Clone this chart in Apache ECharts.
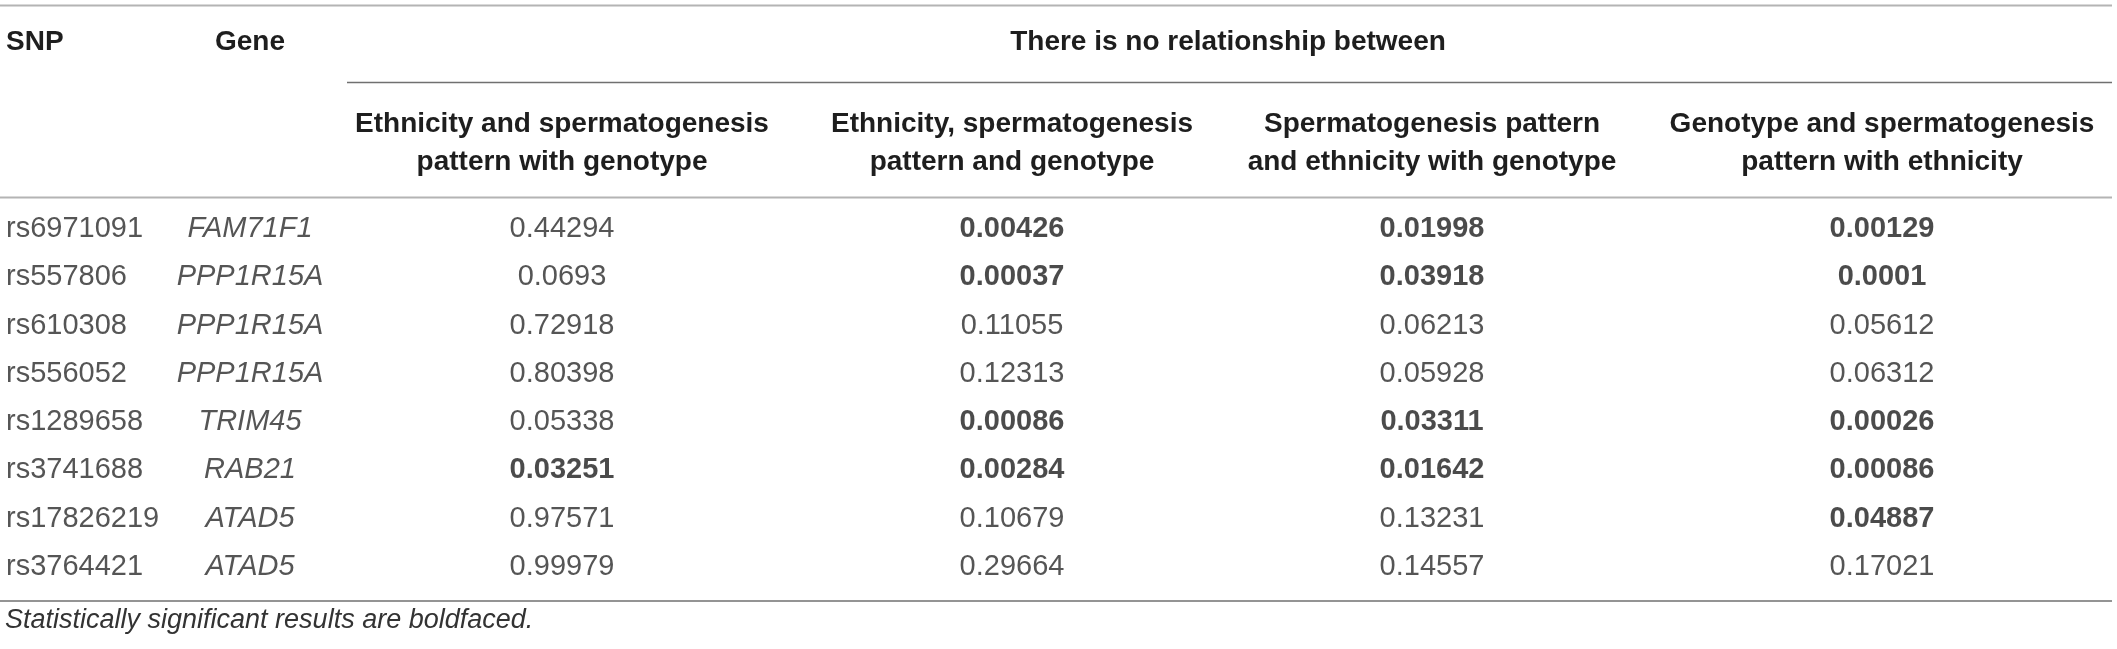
<!DOCTYPE html>
<html>
<head>
<meta charset="utf-8">
<title>SNP relationship table</title>
<script src="https://cdn.jsdelivr.net/npm/echarts@6/dist/echarts.min.js"></script>
<style>
    html, body { margin: 0; padding: 0; background: #fff; }
    #chart { width: 2117px; height: 649px; }
</style>
</head>
<body>
<div id="chart"></div>
<script>
// table data
var snps = ['rs6971091', 'rs557806', 'rs610308', 'rs556052', 'rs1289658', 'rs3741688', 'rs17826219', 'rs3764421'];
var genes = ['FAM71F1', 'PPP1R15A', 'PPP1R15A', 'PPP1R15A', 'TRIM45', 'RAB21', 'ATAD5', 'ATAD5'];
var pEthSpermWithGeno = ['0.44294', '0.0693', '0.72918', '0.80398', '0.05338', '0.03251', '0.97571', '0.99979'];
var pEthSpermAndGeno = ['0.00426', '0.00037', '0.11055', '0.12313', '0.00086', '0.00284', '0.10679', '0.29664'];
var pSpermEthWithGeno = ['0.01998', '0.03918', '0.06213', '0.05928', '0.03311', '0.01642', '0.13231', '0.14557'];
var pGenoSpermWithEth = ['0.00129', '0.0001', '0.05612', '0.06312', '0.00026', '0.00086', '0.04887', '0.17021'];
var alpha = 0.05; // p below this is boldfaced

var groupTitle = 'There is no relationship between';
var colTitles = [
    'SNP',
    'Gene',
    'Ethnicity and spermatogenesis\npattern with genotype',
    'Ethnicity, spermatogenesis\npattern and genotype',
    'Spermatogenesis pattern\nand ethnicity with genotype',
    'Genotype and spermatogenesis\npattern with ethnicity'
];
var footnote = 'Statistically significant results are boldfaced.';

// layout (pixels)
var W = 2117;
var colX = [6, 250, 562, 1012, 1432, 1882];
var font = '"Liberation Sans", Arial, Helvetica, sans-serif';
var textColor = '#2a2a2a';
var lightLine = '#b4b4b4';
var darkLine = '#707070';

function cellSeries(x, values, opts) {
    return {
        type: 'scatter',
        symbolSize: 0,
        silent: true,
        data: values.map(function (v, i) {
            var bold = opts.pvalue && parseFloat(v) < alpha;
            return {
                value: [x, snps[i]],
                label: {
                    formatter: v,
                    fontWeight: bold ? 'bold' : 'normal',
                    color: bold ? '#1e1e1e' : textColor
                }
            };
        }),
        label: {
            show: true,
            position: 'inside',
            align: opts.align,
            verticalAlign: 'middle',
            fontFamily: font,
            fontSize: 29,
            fontStyle: opts.italic ? 'italic' : 'normal'
        }
    };
}

function hline(x1, x2, y, color, w) {
    return {
        type: 'line',
        silent: true,
        shape: { x1: x1, y1: y, x2: x2, y2: y },
        style: { stroke: color, lineWidth: w }
    };
}

function headText(x, y, text, align) {
    return {
        type: 'text',
        silent: true,
        x: x,
        y: y,
        style: {
            text: text,
            fill: '#1e1e1e',
            font: 'bold 28px ' + font,
            align: align,
            verticalAlign: 'middle',
            lineHeight: 38
        }
    };
}

var graphics = [
    hline(0, 2112, 5.5, lightLine, 2),
    hline(347, 2112, 82.5, darkLine, 1.5),
    hline(0, 2112, 197.5, lightLine, 2),
    hline(0, 2112, 601, darkLine, 1.5),
    headText(colX[0], 42, colTitles[0], 'left'),
    headText(colX[1], 42, colTitles[1], 'center'),
    headText(1228, 42, groupTitle, 'center')
];
for (var c = 2; c < colTitles.length; c++) {
    graphics.push(headText(colX[c], 143, colTitles[c], 'center'));
}
graphics.push({
    type: 'text',
    silent: true,
    x: 5,
    y: 620,
    style: {
        text: footnote,
        fill: '#333',
        font: 'italic 27px ' + font,
        align: 'left',
        verticalAlign: 'middle'
    }
});

var option = {
    animation: false,
    backgroundColor: '#fff',
    grid: { left: 0, right: 0, top: 205, bottom: 58 },
    xAxis: { type: 'value', min: 0, max: W, show: false },
    yAxis: { type: 'category', data: snps, inverse: true, show: false },
    graphic: graphics,
    series: [
        cellSeries(colX[0], snps, { align: 'left' }),
        cellSeries(colX[1], genes, { align: 'center', italic: true }),
        cellSeries(colX[2], pEthSpermWithGeno, { align: 'center', pvalue: true }),
        cellSeries(colX[3], pEthSpermAndGeno, { align: 'center', pvalue: true }),
        cellSeries(colX[4], pSpermEthWithGeno, { align: 'center', pvalue: true }),
        cellSeries(colX[5], pGenoSpermWithEth, { align: 'center', pvalue: true })
    ]
};

var myChart = echarts.init(document.getElementById('chart'));
myChart.setOption(option);
</script>
</body>
</html>
